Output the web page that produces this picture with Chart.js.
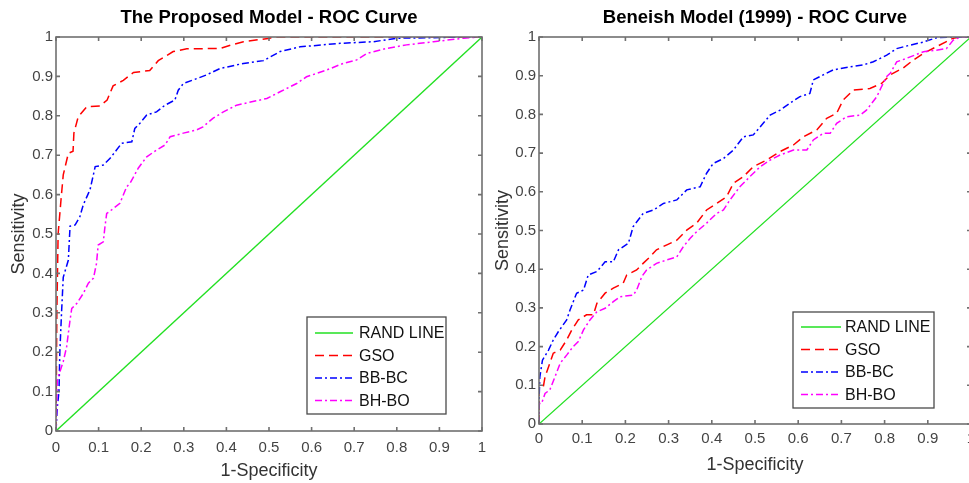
<!DOCTYPE html>
<html>
<head>
<meta charset="utf-8">
<script src="https://cdn.jsdelivr.net/npm/chart.js@4.4.1/dist/chart.umd.min.js"></script>
<style>
  html, body { margin: 0; padding: 0; background: #fff; overflow: hidden; }
  #wrap { position: relative; width: 969px; height: 483px; overflow: hidden; }
  #leftChart { position: absolute; left: 0; top: 0; }
  #rightChart { position: absolute; left: 490px; top: 0; }
</style>
</head>
<body>
<div id="wrap">
  <canvas id="leftChart" width="490" height="483"></canvas>
  <canvas id="rightChart" width="500" height="483"></canvas>
</div>
<script>
// tick labels shared by both axes of both panels
const tickLabels = ['0', '0.1', '0.2', '0.3', '0.4', '0.5', '0.6', '0.7', '0.8', '0.9', '1'];
const seriesNames = ['RAND LINE', 'GSO', 'BB-BC', 'BH-BO'];

// random classifier diagonal
const randX = [0, 1];
const randY = [0, 1];

// ---- The Proposed Model (left panel) ----
const propGsoX = [0, 0.002, 0.005, 0.012, 0.017, 0.029, 0.04, 0.042, 0.052, 0.072, 0.103, 0.12, 0.134, 0.158, 0.182, 0.22, 0.24, 0.275, 0.307, 0.385, 0.412, 0.44, 0.502, 0.51, 1];
const propGsoY = [0, 0.3, 0.5, 0.59, 0.65, 0.705, 0.71, 0.756, 0.797, 0.823, 0.825, 0.84, 0.876, 0.89, 0.91, 0.915, 0.94, 0.963, 0.97, 0.971, 0.98, 0.988, 0.997, 1, 1];

const propBbX = [0, 0.003, 0.007, 0.009, 0.013, 0.017, 0.029, 0.033, 0.045, 0.056, 0.064, 0.076, 0.08, 0.092, 0.111, 0.127, 0.142, 0.154, 0.178, 0.185, 0.197, 0.213, 0.236, 0.256, 0.279, 0.287, 0.299, 0.322, 0.354, 0.385, 0.44, 0.487, 0.526, 0.573, 0.667, 0.745, 0.8, 0.885, 0.95, 1];
const propBbY = [0, 0.06, 0.1, 0.2, 0.3, 0.39, 0.434, 0.52, 0.523, 0.544, 0.574, 0.603, 0.613, 0.671, 0.675, 0.692, 0.713, 0.73, 0.734, 0.768, 0.781, 0.802, 0.81, 0.827, 0.84, 0.865, 0.882, 0.891, 0.904, 0.92, 0.933, 0.94, 0.963, 0.975, 0.984, 0.988, 0.997, 0.998, 1, 1];

const propBhX = [0, 0.002, 0.003, 0.009, 0.017, 0.025, 0.033, 0.037, 0.049, 0.064, 0.076, 0.088, 0.095, 0.099, 0.111, 0.115, 0.119, 0.135, 0.15, 0.166, 0.174, 0.193, 0.213, 0.236, 0.256, 0.268, 0.299, 0.33, 0.345, 0.369, 0.393, 0.424, 0.495, 0.526, 0.565, 0.588, 0.635, 0.674, 0.706, 0.729, 0.776, 0.823, 0.886, 0.956, 1];
const propBhY = [0, 0.08, 0.13, 0.15, 0.176, 0.214, 0.282, 0.311, 0.324, 0.349, 0.375, 0.388, 0.425, 0.472, 0.48, 0.519, 0.552, 0.565, 0.578, 0.62, 0.629, 0.667, 0.696, 0.713, 0.726, 0.747, 0.756, 0.764, 0.772, 0.794, 0.81, 0.827, 0.844, 0.861, 0.882, 0.899, 0.916, 0.933, 0.942, 0.958, 0.971, 0.98, 0.988, 0.997, 1];

// ---- Beneish Model (1999) (right panel) ----
const benGsoX = [0, 0, 0.01, 0.014, 0.025, 0.033, 0.049, 0.064, 0.076, 0.091, 0.11, 0.126, 0.134, 0.153, 0.172, 0.195, 0.203, 0.226, 0.241, 0.257, 0.272, 0.296, 0.319, 0.342, 0.365, 0.388, 0.411, 0.434, 0.45, 0.473, 0.496, 0.527, 0.558, 0.589, 0.612, 0.643, 0.666, 0.689, 0.704, 0.728, 0.766, 0.793, 0.813, 0.843, 0.866, 0.89, 0.92, 0.943, 0.959, 0.975, 1];
const benGsoY = [0, 0.096, 0.096, 0.122, 0.157, 0.183, 0.191, 0.217, 0.243, 0.269, 0.282, 0.282, 0.312, 0.338, 0.351, 0.364, 0.385, 0.398, 0.415, 0.432, 0.45, 0.463, 0.475, 0.501, 0.519, 0.553, 0.57, 0.587, 0.622, 0.639, 0.665, 0.682, 0.704, 0.721, 0.742, 0.76, 0.79, 0.803, 0.837, 0.863, 0.867, 0.88, 0.902, 0.92, 0.94, 0.958, 0.975, 0.988, 0.997, 1, 1];

const benBbX = [0, 0, 0.002, 0.008, 0.022, 0.033, 0.045, 0.064, 0.072, 0.087, 0.103, 0.114, 0.134, 0.153, 0.172, 0.184, 0.207, 0.218, 0.241, 0.265, 0.288, 0.319, 0.342, 0.373, 0.388, 0.403, 0.427, 0.45, 0.473, 0.496, 0.519, 0.535, 0.558, 0.581, 0.604, 0.627, 0.635, 0.658, 0.681, 0.72, 0.751, 0.774, 0.805, 0.828, 0.859, 0.89, 0.92, 0.95, 1];
const benBbY = [0, 0.06, 0.122, 0.165, 0.191, 0.217, 0.239, 0.269, 0.295, 0.338, 0.346, 0.385, 0.394, 0.419, 0.419, 0.45, 0.467, 0.51, 0.544, 0.553, 0.57, 0.579, 0.605, 0.613, 0.648, 0.673, 0.686, 0.708, 0.742, 0.747, 0.777, 0.798, 0.811, 0.829, 0.846, 0.854, 0.889, 0.902, 0.915, 0.923, 0.928, 0.936, 0.953, 0.97, 0.979, 0.987, 0.998, 1, 1];

const benBhX = [0, 0, 0.006, 0.014, 0.025, 0.037, 0.049, 0.064, 0.079, 0.091, 0.103, 0.118, 0.134, 0.153, 0.172, 0.188, 0.218, 0.226, 0.238, 0.249, 0.272, 0.296, 0.319, 0.334, 0.35, 0.365, 0.388, 0.411, 0.427, 0.442, 0.465, 0.488, 0.512, 0.535, 0.558, 0.589, 0.62, 0.635, 0.658, 0.674, 0.689, 0.712, 0.743, 0.758, 0.782, 0.793, 0.805, 0.813, 0.828, 0.851, 0.89, 0.92, 0.943, 0.959, 0.975, 1];
const benBhY = [0, 0.053, 0.053, 0.079, 0.088, 0.122, 0.157, 0.178, 0.2, 0.213, 0.243, 0.269, 0.29, 0.299, 0.316, 0.329, 0.333, 0.346, 0.381, 0.398, 0.415, 0.424, 0.432, 0.458, 0.48, 0.497, 0.519, 0.544, 0.553, 0.579, 0.613, 0.639, 0.665, 0.682, 0.695, 0.708, 0.708, 0.734, 0.751, 0.751, 0.777, 0.794, 0.798, 0.811, 0.846, 0.872, 0.898, 0.906, 0.936, 0.945, 0.962, 0.966, 0.97, 0.992, 1, 1];

Chart.defaults.font.family = '"Liberation Sans", Arial, sans-serif';

const seriesStyles = [
  { color: '#22e022', dash: [], width: 1.3 },
  { color: '#ff0000', dash: [9, 5], width: 1.5 },
  { color: '#0000ff', dash: [7, 3, 2, 3], width: 1.5 },
  { color: '#ff00ff', dash: [7, 3, 2, 3], width: 1.5 }
];

function toPoints(xs, ys) {
  return xs.map((x, i) => ({ x: x, y: ys[i] }));
}

function buildDatasets(curves) {
  return curves.map((c, i) => ({
    label: seriesNames[i],
    data: toPoints(c[0], c[1]),
    showLine: true,
    pointRadius: 0,
    pointHoverRadius: 0,
    fill: false,
    tension: 0,
    borderColor: seriesStyles[i].color,
    borderDash: seriesStyles[i].dash,
    borderWidth: seriesStyles[i].width,
    order: 3 - i
  }));
}

// MATLAB style box with inward ticks on all four sides
const boxTicks = {
  id: 'boxTicks',
  afterDatasetsDraw(chart, args, opts) {
    const { ctx, chartArea: a } = chart;
    const xs = chart.scales.x, ys = chart.scales.y;
    ctx.save();
    ctx.strokeStyle = opts.color;
    ctx.lineWidth = opts.width;
    ctx.strokeRect(a.left, a.top, a.right - a.left, a.bottom - a.top);
    ctx.beginPath();
    xs.ticks.forEach(t => {
      const px = xs.getPixelForValue(t.value);
      ctx.moveTo(px, a.bottom); ctx.lineTo(px, a.bottom - opts.len);
      ctx.moveTo(px, a.top); ctx.lineTo(px, a.top + opts.len);
    });
    ys.ticks.forEach(t => {
      const py = ys.getPixelForValue(t.value);
      ctx.moveTo(a.left, py); ctx.lineTo(a.left + opts.len, py);
      ctx.moveTo(a.right, py); ctx.lineTo(a.right - opts.len, py);
    });
    ctx.stroke();
    ctx.restore();
  }
};

// legend box drawn inside the plot area
const innerLegend = {
  id: 'innerLegend',
  afterDraw(chart, args, o) {
    const ctx = chart.ctx;
    ctx.save();
    ctx.fillStyle = '#fff';
    ctx.fillRect(o.x, o.y, o.w, o.h);
    ctx.strokeStyle = '#4a4a4a';
    ctx.lineWidth = 1.3;
    ctx.strokeRect(o.x, o.y, o.w, o.h);
    ctx.font = '16px "Liberation Sans", Arial, sans-serif';
    ctx.textBaseline = 'middle';
    chart.data.datasets.forEach((ds, i) => {
      const ry = o.rowY + i * o.rowGap;
      ctx.strokeStyle = ds.borderColor;
      ctx.lineWidth = ds.borderWidth;
      ctx.setLineDash(ds.borderDash || []);
      ctx.beginPath();
      ctx.moveTo(o.lineX0, ry);
      ctx.lineTo(o.lineX1, ry);
      ctx.stroke();
      ctx.setLineDash([]);
      ctx.fillStyle = '#111';
      ctx.fillText(ds.label, o.textX, ry + 1);
    });
    ctx.restore();
  }
};

function makeChart(canvasId, titleText, curves, lay) {
  return new Chart(document.getElementById(canvasId), {
    type: 'scatter',
    data: { datasets: buildDatasets(curves) },
    plugins: [boxTicks, innerLegend],
    options: {
      responsive: false,
      animation: false,
      events: [],
      layout: { padding: { left: 0, right: lay.padRight, top: 0, bottom: 0 } },
      plugins: {
        legend: { display: false },
        tooltip: { enabled: false },
        title: {
          display: true,
          fullSize: false,
          text: titleText,
          color: '#000',
          font: { size: 18.5, weight: 'bold' },
          padding: { top: 7, bottom: 7.8 }
        },
        boxTicks: { color: '#707070', width: 1.6, len: 4 },
        innerLegend: lay.legend
      },
      scales: {
        x: {
          type: 'linear', min: 0, max: 1,
          grid: { display: false, drawTicks: false },
          border: { display: false },
          ticks: {
            stepSize: 0.1, padding: lay.xTickPad, autoSkip: false, maxRotation: 0,
            color: '#444', font: { size: 15 },
            callback: (v, i) => tickLabels[i]
          },
          title: {
            display: true, text: '1-Specificity', color: '#333',
            font: { size: 18 }, padding: { top: 0, bottom: lay.xTitlePad }
          },
          afterFit: s => {
            s.height = lay.xHeight;
            s.paddingLeft = 0;
            s.paddingRight = 0;
          }
        },
        y: {
          type: 'linear', min: 0, max: 1,
          grid: { display: false, drawTicks: false },
          border: { display: false },
          ticks: {
            stepSize: 0.1, padding: 3, autoSkip: false,
            color: '#444', font: { size: 15 },
            callback: (v, i) => tickLabels[i]
          },
          title: {
            display: true, text: 'Sensitivity', color: '#333',
            font: { size: 18 }, padding: { top: lay.yTitlePad, bottom: 0 }
          },
          afterFit: s => { s.width = lay.yWidth; }
        }
      }
    }
  });
}

makeChart('leftChart', 'The Proposed Model - ROC Curve',
  [[randX, randY], [propGsoX, propGsoY], [propBbX, propBbY], [propBhX, propBhY]],
  {
    padRight: 8, yWidth: 56, xHeight: 52, xTickPad: 8, xTitlePad: 1, yTitlePad: 8,
    legend: { x: 307, y: 317, w: 139, h: 97, lineX0: 315, lineX1: 353, textX: 359, rowY: 333, rowGap: 22.5 }
  });

makeChart('rightChart', 'Beneish Model (1999) - ROC Curve',
  [[randX, randY], [benGsoX, benGsoY], [benBbX, benBbY], [benBhX, benBhY]],
  {
    padRight: 19, yWidth: 49, xHeight: 59, xTickPad: 6, xTitlePad: 7, yTitlePad: 2,
    legend: { x: 303, y: 312, w: 141, h: 96, lineX0: 311, lineX1: 351, textX: 355, rowY: 327, rowGap: 22.5 }
  });
</script>
</body>
</html>
